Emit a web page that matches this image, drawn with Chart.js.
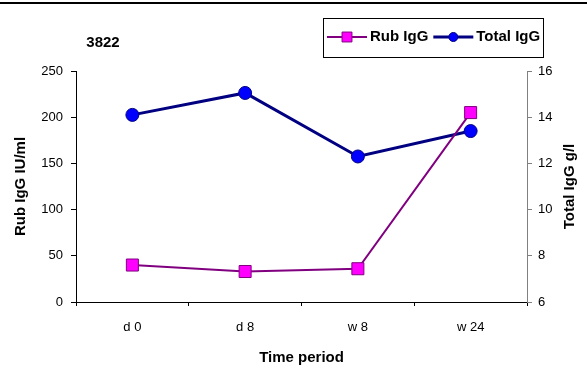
<!DOCTYPE html>
<html>
<head>
<meta charset="utf-8">
<script src="https://cdn.jsdelivr.net/npm/chart.js"></script>
<style>
html,body{margin:0;padding:0;background:#fff;}
#wrap{width:587px;height:374px;position:relative;}
</style>
</head>
<body>
<div id="wrap"><canvas id="grafico" width="587" height="374"></canvas></div>
<script>
const periodos = ["d 0", "d 8", "w 8", "w 24"];
const rubIgG = [40, 33, 36, 205];
const totalIgG = [14.1, 15.05, 12.3, 13.4];
const tituloGrafico = "3822";

const fonte = "'Liberation Sans', Arial, sans-serif";

const extras = {
id: "extras",
afterDraw(chart){
const ctx = chart.ctx;
const area = chart.chartArea;
ctx.save();

// linha preta no topo
ctx.fillStyle = "#000";
ctx.fillRect(0, 2, 587, 2);

ctx.font = "bold 15px " + fonte;
ctx.textBaseline = "middle";
ctx.textAlign = "center";
ctx.fillText(tituloGrafico, 103, 43);

// titulos dos eixos
ctx.fillText("Time period", (area.left + area.right) / 2, 358);

ctx.save();
ctx.translate(21, (area.top + area.bottom) / 2);
ctx.rotate(-Math.PI / 2);
ctx.fillText("Rub IgG IU/ml", 0, 0);
ctx.restore();

ctx.save();
ctx.translate(570, (area.top + area.bottom) / 2);
ctx.rotate(-Math.PI / 2);
ctx.fillText("Total IgG g/l", 0, 0);
ctx.restore();

// legenda
ctx.strokeStyle = "#000";
ctx.lineWidth = 1;
ctx.strokeRect(323.5, 18.5, 220, 39);

let x = 327;
const y = 37;
chart.data.datasets.forEach(ds => {
ctx.strokeStyle = ds.borderColor;
ctx.lineWidth = ds.borderWidth;
ctx.beginPath();
ctx.moveTo(x, y);
ctx.lineTo(x + 40, y);
ctx.stroke();
ctx.fillStyle = ds.pointBackgroundColor;
ctx.strokeStyle = ds.pointBorderColor;
ctx.lineWidth = 1;
Chart.helpers.drawPoint(ctx, {
pointStyle: ds.pointStyle,
radius: ds.pointStyle === "rect" ? 7 : 4.5,
borderWidth: 1
}, x + 20, y);
ctx.fillStyle = "#000";
ctx.font = "bold 15px " + fonte;
ctx.textAlign = "left";
ctx.fillText(ds.label, x + 43, y);
x += 43 + ctx.measureText(ds.label).width + 5;
});

ctx.restore();
}
};

new Chart(document.getElementById("grafico"), {
type: "line",
data: {
labels: periodos,
datasets: [
{
label: "Rub IgG",
data: rubIgG,
yAxisID: "y",
borderColor: "#800080",
borderWidth: 2,
backgroundColor: "#FF00FF",
pointStyle: "rect",
pointRadius: 8.5,
pointBorderWidth: 1,
pointBorderColor: "#800080",
pointBackgroundColor: "#FF00FF",
tension: 0,
order: 1
},
{
label: "Total IgG",
data: totalIgG,
yAxisID: "y1",
borderColor: "#000080",
borderWidth: 3,
backgroundColor: "#0000FF",
pointStyle: "circle",
pointRadius: 6.5,
pointBorderWidth: 1,
pointBorderColor: "#000080",
pointBackgroundColor: "#0000FF",
tension: 0,
order: 2
}
]
},
options: {
responsive: false,
animation: false,
layout: { padding: { top: 71, left: 0, right: 0, bottom: 0 } },
plugins: {
legend: { display: false },
title: { display: false },
tooltip: { enabled: false }
},
scales: {
x: {
offset: true,
grid: {
offset: true,
drawOnChartArea: false,
drawTicks: true,
tickLength: 4,
color: "#000"
},
border: { display: true, color: "#000", width: 1 },
ticks: {
color: "#000",
padding: 14,
maxRotation: 0,
font: { family: fonte, size: 13 }
},
afterFit(scale){ scale.height = 72; }
},
y: {
position: "left",
min: 0,
max: 250,
ticks: {
stepSize: 50,
color: "#000",
padding: 8,
font: { family: fonte, size: 13 }
},
grid: {
drawOnChartArea: false,
drawTicks: true,
tickLength: 5,
color: "#000"
},
border: { display: true, color: "#000", width: 1 },
afterFit(scale){ scale.width = 76; }
},
y1: {
position: "right",
min: 6,
max: 16,
ticks: {
stepSize: 2,
color: "#000",
padding: 6,
font: { family: fonte, size: 13 }
},
grid: {
drawOnChartArea: false,
drawTicks: true,
tickLength: 5,
color: "#808080"
},
border: { display: true, color: "#808080", width: 1 },
afterFit(scale){ scale.width = 60; }
}
}
},
plugins: [extras]
});
</script>
</body>
</html>
